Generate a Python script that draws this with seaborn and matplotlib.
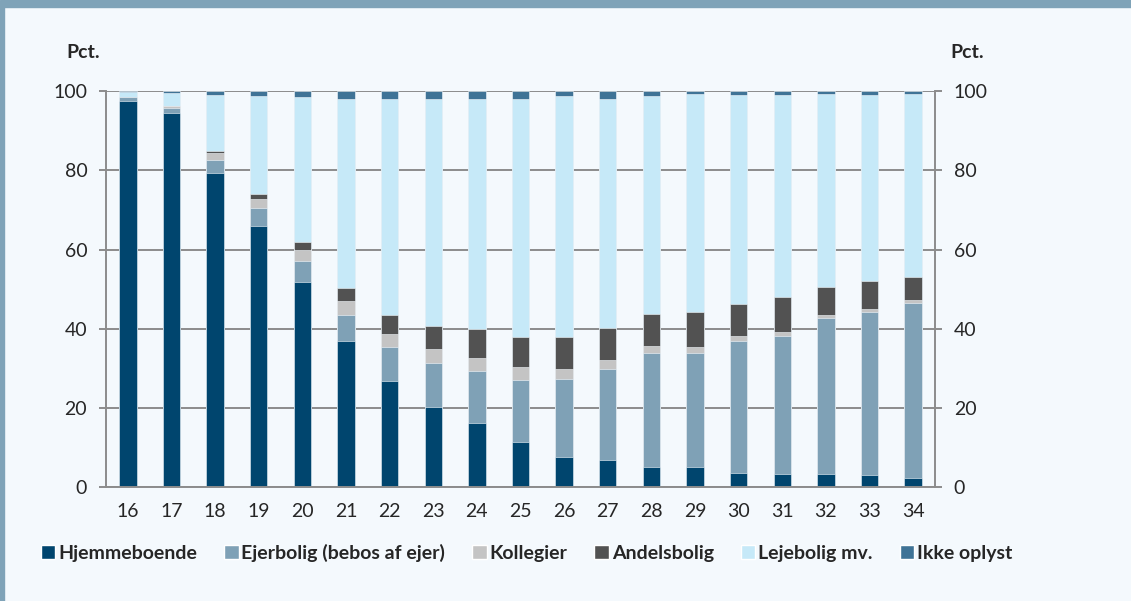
import numpy as np
import pandas as pd
import matplotlib
matplotlib.use('Agg')
import matplotlib.pyplot as plt
import seaborn as sns
from matplotlib.patches import Patch, Rectangle

# Data (percent of persons per age)
ages = [str(a) for a in range(16, 35)]
hjemmeboende = [97.6, 94.4, 79.3, 65.9, 51.9, 37.0, 26.7, 20.3, 16.3, 11.5, 7.7, 6.9, 5.0, 5.0, 3.5, 3.3, 3.3, 3.2, 2.4]
ejerbolig = [0.8, 1.3, 3.4, 4.5, 5.3, 6.6, 8.8, 11.0, 13.1, 15.7, 19.7, 23.0, 28.8, 29.0, 33.4, 34.8, 39.5, 41.0, 44.2]
kollegier = [0.1, 0.4, 1.7, 2.3, 2.6, 3.4, 3.2, 3.5, 3.3, 3.1, 2.5, 2.1, 1.9, 1.3, 1.2, 1.1, 0.8, 0.8, 0.7]
andelsbolig = [0.1, 0.1, 0.5, 1.2, 2.0, 3.4, 4.9, 5.9, 7.3, 7.5, 7.9, 8.3, 8.0, 9.0, 8.1, 8.7, 6.9, 7.0, 5.8]
lejebolig = [1.2, 3.4, 14.0, 24.8, 36.7, 47.7, 54.5, 57.4, 57.9, 60.3, 60.9, 57.8, 55.1, 54.9, 52.7, 51.1, 48.7, 47.0, 46.1]
ikke_oplyst = [0.2, 0.4, 1.1, 1.3, 1.5, 1.9, 1.9, 1.9, 2.1, 1.9, 1.3, 1.9, 1.2, 0.8, 1.1, 1.0, 0.8, 1.0, 0.8]

series = ['Hjemmeboende', 'Ejerbolig (bebos af ejer)', 'Kollegier', 'Andelsbolig', 'Lejebolig mv.', 'Ikke oplyst']
colors = ['#00456e', '#7fa1b6', '#c4c4c4', '#525252', '#c6e9f8', '#3f7396']

df = pd.DataFrame({'age': ages, series[0]: hjemmeboende, series[1]: ejerbolig,
                   series[2]: kollegier, series[3]: andelsbolig,
                   series[4]: lejebolig, series[5]: ikke_oplyst})
cum = df[series].cumsum(axis=1)

bg = '#f4f9fd'
frame = '#7fa3b8'
grid = '#8c8c8c'

sns.set_style('white')
plt.rcParams['font.family'] = ['Lato', 'DejaVu Sans']

fig = plt.figure(figsize=(11.31, 6.01), dpi=100, facecolor=bg)
ax = fig.add_axes([106 / 1131, 1 - 487.3 / 601, (935 - 106) / 1131, (487.3 - 91) / 601])
ax.set_facecolor(bg)

# stacked bars: draw cumulative totals from the top series down
for name, col in reversed(list(zip(series, colors))):
    sns.barplot(x=df['age'], y=cum[name], color=col, width=0.4, ax=ax,
                edgecolor=bg, linewidth=0.4, saturation=1)

ax.set_ylim(0, 100)
ax.set_xlim(-0.5, len(ages) - 0.5)
ax.set_yticks([0, 20, 40, 60, 80, 100])
ax.yaxis.grid(True, color=grid, linewidth=1.4)
ax.set_axisbelow(True)
ax.set_xlabel('')
ax.set_ylabel('')

for side in ['left', 'right', 'bottom']:
    ax.spines[side].set_color(grid)
    ax.spines[side].set_linewidth(1.4)
ax.spines['top'].set_visible(False)

ax.tick_params(axis='y', left=True, right=True, labelleft=True, labelright=True,
               length=5, width=1.4, color=grid, labelsize=14, pad=8.5)
ax.tick_params(axis='x', which='major', length=0, labelsize=14, pad=11)
ax.set_xticks(np.arange(-0.5, len(ages)), minor=True)
ax.tick_params(axis='x', which='minor', length=5, width=1.4, color=grid)

fig.text(100 / 1131, 1 - 52 / 601, 'Pct.', fontsize=14, fontweight='bold', ha='right', va='center')
fig.text(950 / 1131, 1 - 52 / 601, 'Pct.', fontsize=14, fontweight='bold', ha='left', va='center')

# frame decorations
fig.patches.append(Rectangle((0, 1 - 7 / 601), 1, 7 / 601, transform=fig.transFigure,
                             color=frame, zorder=0))
fig.patches.append(Rectangle((0, 0), 4 / 1131, 1 - 7 / 601, transform=fig.transFigure,
                             color=frame, zorder=0))

handles = [Patch(facecolor=c, label=s) for s, c in zip(series, colors)]
leg = fig.legend(handles=handles, loc='center left', bbox_to_anchor=(0.036, 1 - 552.5 / 601), ncol=6,
                 frameon=False, handlelength=0.75, handleheight=0.75, handletextpad=0.15,
                 columnspacing=1.38, borderaxespad=0, borderpad=0,
                 prop={'weight': 'bold', 'size': 14})

fig.savefig('out.png', dpi=100, facecolor=bg)
